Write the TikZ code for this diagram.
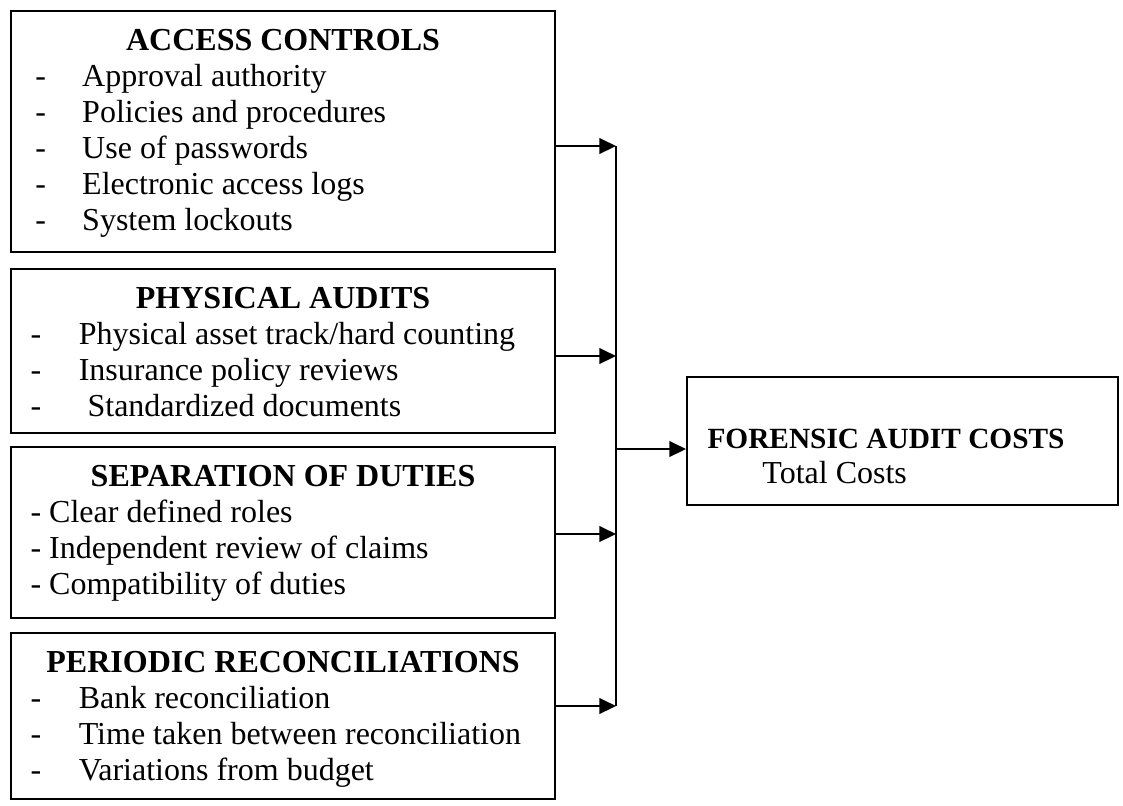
\documentclass[tikz,border=0pt]{standalone}
\usepackage{fontspec}
\setmainfont{Liberation Serif}
\usetikzlibrary{arrows.meta}

\begin{document}
\begin{tikzpicture}[
        x=0.375pt, y=-0.375pt,
        factor/.style={draw, line width=0.75pt, anchor=north west, inner sep=0pt, minimum width=204pt},
        items/.style={anchor=base west, inner sep=0pt, font=\fontsize{12}{13.5}\selectfont},
        link/.style={-{Triangle[length=6.2pt, width=5.8pt]}, line width=0.85pt}
    ]
    \useasboundingbox (0,0) rectangle (1123,805);

    % Left boxes - control factors
    \node[factor, minimum height=90.4pt] (ac) at (10,10) {};
    \node[factor, minimum height=61.5pt] (pa) at (10,268) {};
    \node[factor, minimum height=64.1pt] (sd) at (10,446) {};
    \node[factor, minimum height=62.25pt] (pr) at (10,632) {};

    \node[items] (ac-text) at (30,50) {\begin{tabular}[t]{@{}p{189.4pt}@{}}
        \multicolumn{1}{@{}c@{}}{\bfseries ACCESS CONTROLS}\\
        \hspace*{1.8pt}-\hspace{13.6pt}Approval authority\\
        \hspace*{1.8pt}-\hspace{13.6pt}Policies and procedures\\
        \hspace*{1.8pt}-\hspace{13.6pt}Use of passwords\\
        \hspace*{1.8pt}-\hspace{13.6pt}Electronic access logs\\
        \hspace*{1.8pt}-\hspace{13.6pt}System lockouts
    \end{tabular}};
    \node[items] (pa-text) at (30,308) {\begin{tabular}[t]{@{}p{189.4pt}@{}}
        \multicolumn{1}{@{}c@{}}{\bfseries PHYSICAL AUDITS}\\
        -\hspace{14.1pt}Physical asset track/hard counting\\
        -\hspace{14.1pt}Insurance policy reviews\\
        -\hspace{17.4pt}Standardized documents
    \end{tabular}};
    \node[items] (sd-text) at (30,486) {\begin{tabular}[t]{@{}p{189.4pt}@{}}
        \multicolumn{1}{@{}c@{}}{\bfseries SEPARATION OF DUTIES}\\
        - Clear defined roles\\
        - Independent review of claims\\
        - Compatibility of duties
    \end{tabular}};
    \node[items] (pr-text) at (30,672) {\begin{tabular}[t]{@{}p{189.4pt}@{}}
        \multicolumn{1}{@{}c@{}}{\bfseries PERIODIC RECONCILIATIONS}\\
        -\hspace{14.1pt}Bank reconciliation\\
        -\hspace{14.1pt}Time taken between reconciliation\\
        -\hspace{14.1pt}Variations from budget
    \end{tabular}};

    % Right box - outcome
    \node[factor, minimum width=161.6pt, minimum height=48pt] (fac) at (686,376) {};
    \node[items, font=\fontsize{12}{13.2}\selectfont] (fac-text) at (707,448) {\begin{tabular}[t]{@{}l@{}}
        {\fontsize{11}{13.2}\selectfont\bfseries FORENSIC AUDIT COSTS}\\
        \hspace*{20.6pt}Total Costs
    \end{tabular}};

    % Bus line and arrows
    \coordinate (b1) at (616,146);
    \coordinate (b2) at (616,356);
    \coordinate (b3) at (616,534);
    \coordinate (b4) at (616,706);
    \coordinate (bf) at (616,449);
    \draw[line width=0.4pt] (b1) -- (b4);
    \draw[link] (ac.east |- b1) -- (b1);
    \draw[link] (pa.east |- b2) -- (b2);
    \draw[link] (sd.east |- b3) -- (b3);
    \draw[link] (pr.east |- b4) -- (b4);
    \draw[link] (bf) -- (fac.west |- bf);
\end{tikzpicture}
\end{document}
